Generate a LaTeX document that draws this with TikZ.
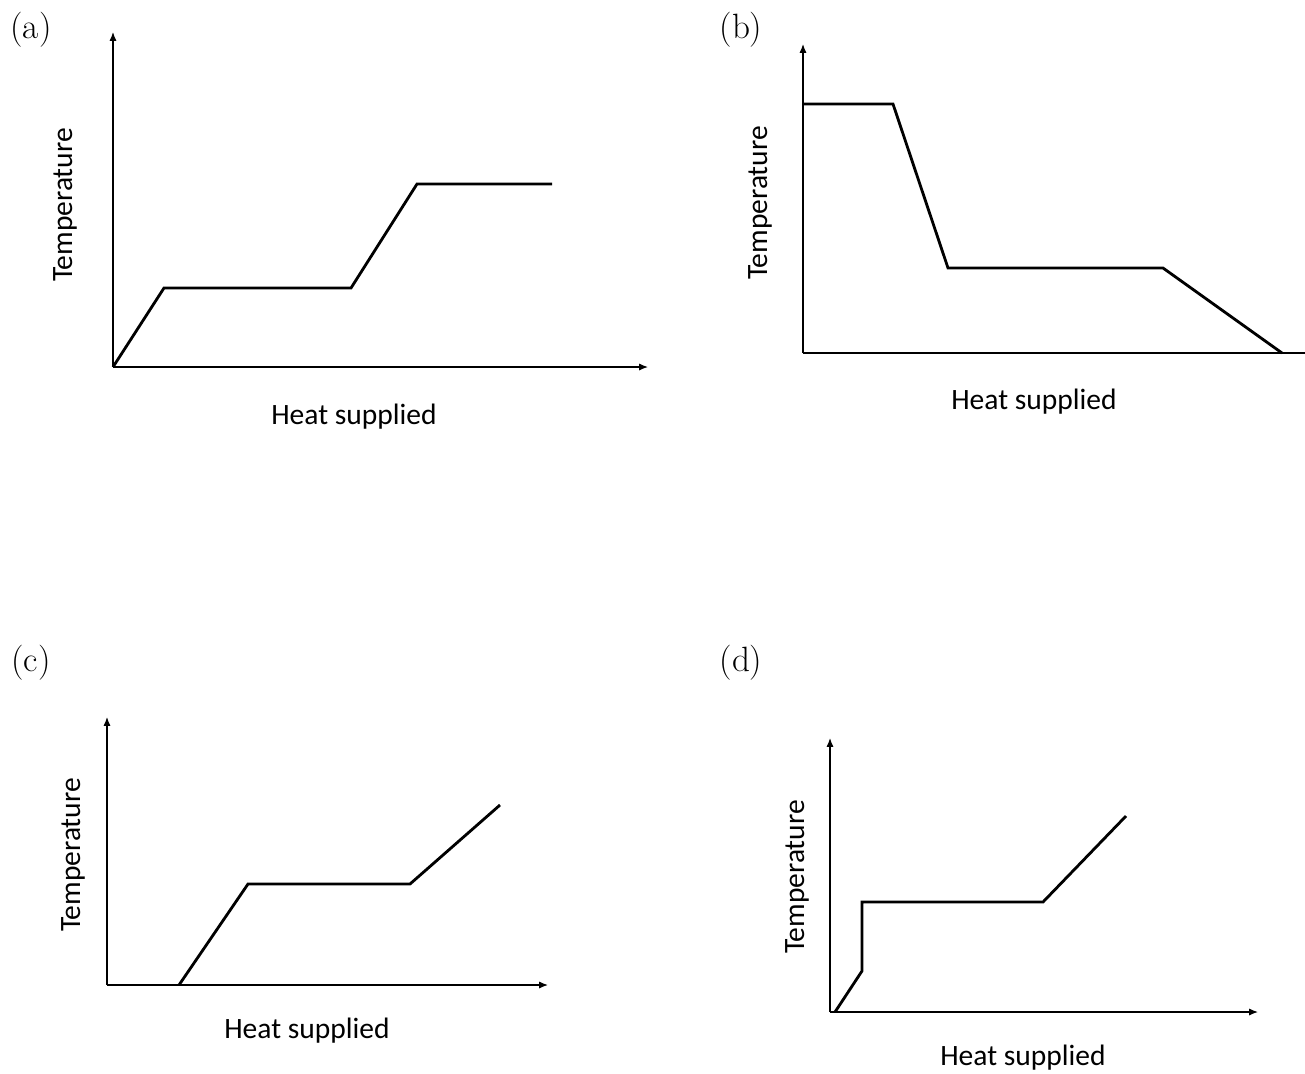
\documentclass[tikz,border=0pt]{standalone}
\usepackage{fontspec}
\setsansfont{Carlito}
\usetikzlibrary{arrows.meta, positioning}

\begin{document}
\begin{tikzpicture}[>={Latex[length=5pt, width=4pt]}, x=0.02cm, y=-0.02cm,
    axis/.style={line width=0.7pt, ->},
    curve/.style={line width=1.6pt, line join=miter},
    ttl/.style={font=\fontsize{20}{22}\selectfont},
    lbl/.style={font=\sffamily\fontsize{16.8}{19}\selectfont}]
\useasboundingbox (0,0) rectangle (1305,1073);

% (a)
\node (ta) at (31,30)[ttl]{(a)};
\coordinate (oa) at (113,367);
\draw[axis](oa)--(113,32); \draw[axis](oa)--(648,367);
\draw[curve](oa)--(164,288)--(351,288)--(417,184)--(552,184);
\node (ya) at (65,205)[lbl, rotate=90]{Temperature};
\node (xa) at (354,417)[lbl]{Heat supplied};

% (b)
\node (tb) at (741,30)[ttl]{(b)};
\coordinate (ob) at (803,353);
\draw[axis](ob)--(803,44); \draw[line width=0.7pt](ob)--(1305,353);
\draw[curve](803,104)--(893,104)--(948,268)--(1163,268)--(1282,353);
\node (yb) at (760,203)[lbl, rotate=90]{Temperature};
\node (xb) at (1034,402)[lbl]{Heat supplied};

% (c)
\node (tc) at (31,663)[ttl]{(c)};
\coordinate (oc) at (107,985);
\draw[axis](oc)--(107,717); \draw[axis](oc)--(548,985);
\draw[curve](179,985)--(248,884)--(410,884)--(500,805);
\node (yc) at (73,855)[lbl, rotate=90]{Temperature};
\node (xc) at (307,1031)[lbl]{Heat supplied};

% (d)
\node (td) at (741,663)[ttl]{(d)};
\coordinate (od) at (830,1012);
\draw[axis](od)--(830,738); \draw[axis](od)--(1258,1012);
\draw[curve](835,1012)--(862,971)--(862,902)--(1043,902)--(1126,816);
\node (yd) at (797,877)[lbl, rotate=90]{Temperature};
\node (xd) at (1023,1058)[lbl]{Heat supplied};

\end{tikzpicture}
\end{document}
